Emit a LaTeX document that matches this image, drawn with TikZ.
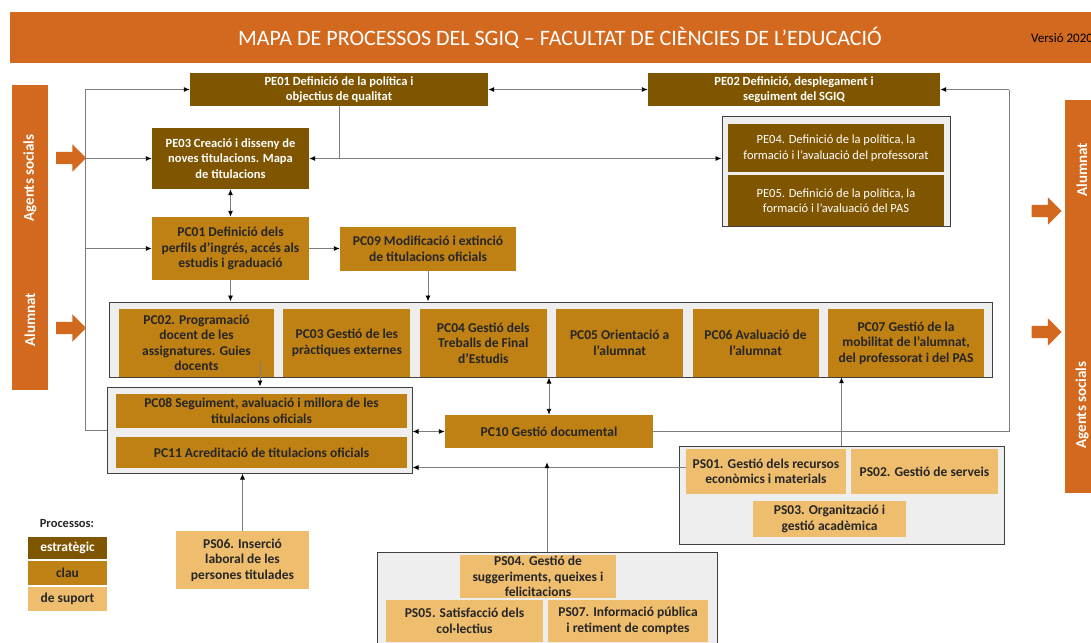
\documentclass[tikz,border=0pt]{standalone}
\usepackage{fontspec}
\setmainfont{Carlito}
\usetikzlibrary{positioning,arrows.meta,shapes.arrows}

\definecolor{taronja}{RGB}{210,105,30}
\definecolor{colEstrat}{RGB}{127,85,0}
\definecolor{colClau}{RGB}{191,128,20}
\definecolor{colSuport}{RGB}{238,190,110}
\definecolor{colFons}{RGB}{238,238,238}
\definecolor{colLinia}{RGB}{125,125,125}
\definecolor{textfosc}{RGB}{38,38,38}

\newcommand{\lletraproc}{\fontsize{12.5}{15.5}\selectfont\bfseries}
\newcommand{\lletragran}{\fontsize{13.5}{15.5}\selectfont\bfseries}
\newcommand{\lletrafina}{\fontsize{12.5}{15.5}\selectfont}

\begin{document}
\begin{tikzpicture}[x=1pt, y=-1pt, node distance=9pt,
    proc/.style={rectangle, inner sep=0pt, align=center, font=\lletraproc},
    estrat/.style={proc, fill=colEstrat, text=white},
    clauP/.style={proc, font=\lletragran, fill=colClau, text=textfosc},
    suport/.style={proc, font=\lletragran, fill=colSuport, text=textfosc},
    grup/.style={rectangle, inner sep=0pt, draw=black!75, fill=colFons, line width=1pt},
    mida/.style 2 args={minimum width=#1pt, minimum height=#2pt},
    barra/.style={rectangle, inner sep=0pt, fill=taronja},
    rotul/.style={rotate=90, text=white, font=\fontsize{15}{18}\selectfont\bfseries},
    fletxagran/.style={single arrow, fill=taronja, inner sep=6pt, minimum height=30pt,
        single arrow head extend=7.5pt, single arrow head indent=0pt},
    linia/.style={draw=colLinia, line width=0.9pt},
    fletxa/.style={linia, -{Latex[length=6pt,width=5pt,color=black]}},
    doble/.style={linia, {Latex[length=6pt,width=5pt,color=black]}-{Latex[length=6pt,width=5pt,color=black]}}]
    \useasboundingbox (0,0) rectangle (1091,642);
    \clip (0,0) rectangle (1091,642);
    % Header
    \node[barra, mida={1081}{51}] (capcalera) at (550.5,37.5) {};
    \node[text=white, font=\fontsize{22}{26}\selectfont] (titol) at (560,38)
        {MAPA DE PROCESSOS DEL SGIQ – FACULTAT DE CIÈNCIES DE L’EDUCACIÓ};
    \node[anchor=west, inner sep=0pt, font=\fontsize{13}{15}\selectfont] (versio) at (1031,38) {Versió 2020};
    % Side bars
    \node[barra, mida={36}{305}] (barraEsq) at (30,237.5) {};
    \node[rotul] (agEsq) at (30,178) {Agents socials};
    \node[rotul] (alEsq) at (30,320) {Alumnat};
    \node[barra, mida={36}{393}] (barraDre) at (1083,296.5) {};
    \node[rotul] (alDre) at (1082,170) {Alumnat};
    \node[rotul] (agDre) at (1082,405) {Agents socials};
    \node[fletxagran] (flEsq1) at (68,158) {};
    \node[fletxagran] (flEsq2) at (68,328) {};
    \node[fletxagran] (flDre1) at (1043.5,211) {};
    \node[fletxagran] (flDre2) at (1043.5,332) {};
    % Strategic processes
    \node[estrat, mida={298}{33}] (pe01) at (339,89.5) {PE01 Definició de la política i\\objectius de qualitat};
    \node[estrat, mida={292}{33}] (pe02) at (794,89.5) {PE02 Definició, desplegament i\\seguiment del SGIQ};
    \node[estrat, mida={157}{61}] (pe03) at (230.5,158.5) {PE03 Creació i disseny de\\noves titulacions. Mapa\\de titulacions};
    \node[grup, mida={228}{110}] (grupPE) at (836,171) {};
    \node[estrat, font=\lletrafina, mida={216}{48}] (pe04) at (836,148)
        {PE04. Definició de la política, la\\formació i l'avaluació del professorat};
    \node[estrat, font=\lletrafina, mida={216}{51}, below=3pt of pe04] (pe05)
        {PE05. Definició de la política, la\\formació i l’avaluació del PAS};
    % Key processes
    \node[clauP, mida={157}{63}] (pc01) at (230.5,248.5) {PC01 Definició dels\\perfils d’ingrés, accés als\\estudis i graduació};
    \node[clauP, mida={176}{44}] (pc09) at (428,249) {PC09 Modificació i extinció\\de titulacions oficials};
    \node[grup, mida={883}{75}] (filaPC) at (550.5,339.5) {};
    \node[clauP, mida={155}{68}] (pc02) at (196.5,343) {PC02. Programació\\docent de les\\assignatures. Guies\\docents};
    \node[clauP, mida={127}{68}, right=of pc02] (pc03) {PC03 Gestió de les\\pràctiques externes};
    \node[clauP, mida={127}{68}, right=of pc03] (pc04) {PC04 Gestió dels\\Treballs de Final\\d’Estudis};
    \node[clauP, mida={127}{68}, right=of pc04] (pc05) {PC05 Orientació a\\l’alumnat};
    \node[clauP, mida={126}{68}, right=of pc05] (pc06) {PC06 Avaluació de\\l’alumnat};
    \node[clauP, mida={156}{68}, right=of pc06] (pc07) {PC07 Gestió de la\\mobilitat de l’alumnat,\\del professorat i del PAS};
    \node[grup, mida={305}{86}] (grupPC08) at (259.5,430) {};
    \node[clauP, mida={291}{34}] (pc08) at (261.5,411) {PC08 Seguiment, avaluació i millora de les\\titulacions oficials};
    \node[clauP, mida={291}{31}] (pc11) at (261.5,452.5) {PC11 Acreditació de titulacions oficials};
    \node[clauP, mida={208}{33}] (pc10) at (549,431.5) {PC10 Gestió documental};
    % Support processes
    \node[grup, mida={325}{98}] (grupPS) at (841.5,495) {};
    \node[suport, mida={160}{45}] (ps01) at (766,471.5) {PS01. Gestió dels recursos\\econòmics i materials};
    \node[suport, mida={147}{45}] (ps02) at (924.5,471.5) {PS02. Gestió de serveis};
    \node[suport, mida={153}{36}] (ps03) at (829.5,519) {PS03. Organització i\\gestió acadèmica};
    \node[suport, mida={133}{58}] (ps06) at (242.5,560) {PS06. Inserció\\laboral de les\\persones titulades};
    \node[grup, mida={340}{98}] (grupPS04) at (547,601) {};
    \node[suport, mida={156}{43}] (ps04) at (538,576.5) {PS04. Gestió de\\suggeriments, queixes i\\felicitacions};
    \node[suport, mida={157}{42}] (ps05) at (464.5,621) {PS05. Satisfacció dels\\col·lectius};
    \node[suport, mida={160}{42}] (ps07) at (628,621) {PS07. Informació pública\\i retiment de comptes};
    % Legend
    \node[font=\lletraproc, text=textfosc] (llegenda) at (67,523) {Processos:};
    \node[estrat, font=\lletragran, mida={79}{22}] (lgEstrat) at (67.5,548) {estratègic};
    \node[clauP, mida={79}{24}, below=1.5pt of lgEstrat] (lgClau) {clau};
    \node[suport, mida={79}{24}, below=1.5pt of lgClau] (lgSuport) {de suport};
    % Connections
    \coordinate (esqTop) at (85,89.5);
    \coordinate (dreTop) at (1009,89.5);
    \coordinate (nus) at (pe01.south |- pe03.east);
    \coordinate (pc02peu) at (260,362);
    \coordinate (ps04cap) at ([yshift=-14pt]pc10.south);
    \draw[linia] (esqTop) -- (esqTop |- grupPC08.west) -- (grupPC08.west);
    \draw[fletxa] (esqTop) -- (pe01.west);
    \draw[fletxa] (esqTop |- pe03.west) -- (pe03.west);
    \draw[fletxa] (esqTop |- pc01.west) -- (pc01.west);
    \draw[doble] (pe01) -- (pe02);
    \draw[fletxa] (dreTop) -- (pe02.east);
    \draw[linia] (dreTop) -- (dreTop |- pc10.east) -- (pc10.east);
    \draw[linia] (pe01.south) -- (nus);
    \draw[fletxa] (nus) -- (pe03.east);
    \draw[fletxa] (nus) -- (nus -| grupPE.west);
    \draw[doble] (pe03) -- (pc01);
    \draw[fletxa] (pc01.east) -- (pc01.east -| pc09.west);
    \draw[fletxa] (pc01.south) -- (pc01.south |- filaPC.north);
    \draw[fletxa] (pc09.south) -- (pc09.south |- filaPC.north);
    \draw[fletxa] (pc02peu) -- (pc02peu |- grupPC08.north);
    \draw[doble] (pc10.north) -- (pc10.north |- filaPC.south);
    \draw[doble] (grupPC08.east |- pc10.west) -- (pc10.west);
    \draw[fletxa] (grupPS.north) -- (grupPS.north |- pc07.south);
    \draw[fletxa] ([yshift=4pt]ps01.west) -- ([yshift=4pt]ps01.west -| grupPC08.east);
    \draw[fletxa] (grupPS04.north) -- (grupPS04.north |- ps04cap);
    \draw[fletxa] (ps06.north) -- (ps06.north |- grupPC08.south);
\end{tikzpicture}
\end{document}
